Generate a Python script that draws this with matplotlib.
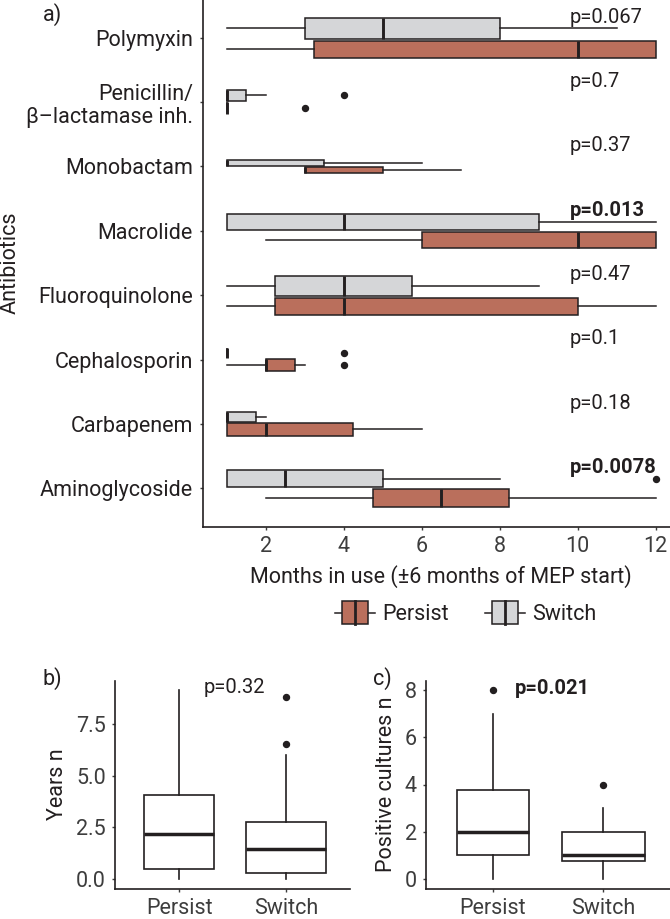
import matplotlib
matplotlib.use('Agg')
import numpy as np
import matplotlib.pyplot as plt
from matplotlib.legend_handler import HandlerBase
from matplotlib.patches import Rectangle, Patch
from matplotlib.lines import Line2D

plt.rcParams['font.family'] = ['Roboto', 'DejaVu Sans']

# ---- panel a: months in use, one row per antibiotic (bottom to top) ----
antibiotics = ['Aminoglycoside', 'Carbapenem', 'Cephalosporin', 'Fluoroquinolone',
               'Macrolide', 'Monobactam', 'Penicillin/\nβ–lactamase inh.', 'Polymyxin']

# (whisker low, q1, median, q3, whisker high)
persist_stats = [
    (2, 4.75, 6.5, 8.25, 12),
    (1, 1, 2, 4.25, 6),
    (1, 2, 2, 2.75, 3),
    (1, 2.25, 4, 10, 12),
    (2, 6, 10, 12, 12),
    (3, 3, 3, 5, 7),
    (1, 1, 1, 1, 1),
    (1, 3.25, 10, 12, 12),
]
persist_outliers = [[], [], [4], [], [], [], [3], []]
switch_stats = [
    (1, 1, 2.5, 5, 8),
    (1, 1, 1, 1.75, 2),
    (1, 1, 1, 1, 1),
    (1, 2.25, 4, 5.75, 9),
    (1, 1, 4, 9, 12),
    (1, 1, 1, 3.5, 6),
    (1, 1, 1, 1.5, 2),
    (1, 3, 5, 8, 11),
]
switch_outliers = [[12], [], [4], [], [], [], [4], []]
# group sizes (box thickness ~ sqrt(n))
persist_n = [21, 11, 9, 20, 17, 3, 10, 20]
switch_n = [21, 7, 7, 28, 19, 3, 9, 30]
p_values = ['p=0.0078', 'p=0.18', 'p=0.1', 'p=0.47', 'p=0.013', 'p=0.37', 'p=0.7', 'p=0.067']
p_bold = [True, False, False, False, True, False, False, False]
month_ticks = [2, 4, 6, 8, 10, 12]

# ---- panels b and c ----
groups = ['Persist', 'Switch']
group_n = [30, 40]
years_stats = [(0, 0.47, 2.16, 4.07, 9.15), (0, 0.28, 1.45, 2.75, 6.0)]
years_outliers = [[], [6.55, 8.8]]
years_ticks = [0.0, 2.5, 5.0, 7.5]
cultures_stats = [(0, 1, 2, 3.75, 7), (0, 0.75, 1, 2, 3)]
cultures_outliers = [[8], [4]]
cultures_ticks = [0, 2, 4, 6, 8]

INK = '#231F20'
TICK = '#3d3d3d'
PERSIST_C = '#BA6F5C'
SWITCH_C = '#D5D6D8'
FS = 15.5
PFS = 14.5


def to_bxp(stats, outliers):
    return [dict(whislo=s[0], q1=s[1], med=s[2], q3=s[3], whishi=s[4], fliers=f)
            for s, f in zip(stats, outliers)]


def style_axes(ax):
    for side in ['top', 'right']:
        ax.spines[side].set_visible(False)
    for side in ['left', 'bottom']:
        ax.spines[side].set_linewidth(1.2)
        ax.spines[side].set_color(INK)
    ax.tick_params(length=2.5, width=1.0, color=TICK, labelcolor=TICK,
                   labelsize=FS, pad=4)


W, H = 670, 919
fig = plt.figure(figsize=(W / 100, H / 100), dpi=100)


def px_axes(left, top, right, bottom):
    return fig.add_axes([left / W, 1 - bottom / H, (right - left) / W, (bottom - top) / H])


# ---------------- panel a ----------------
ax = px_axes(203.3, -0.9, 679.0, 526.9)
k = 0.059      # thickness per sqrt(n)
slot = 0.9     # dodge padding
cats = np.arange(1, len(antibiotics) + 1)
hs = k * np.sqrt(switch_n)
hp = k * np.sqrt(persist_n)
pos_s = cats + hp / slot / 2
pos_p = cats - hs / slot / 2

common = dict(orientation='horizontal', patch_artist=True, showcaps=False,
              whiskerprops=dict(color=INK, lw=1.1),
              medianprops=dict(color=INK, lw=2.1, solid_capstyle='butt'),
              flierprops=dict(marker='o', markerfacecolor=INK, markeredgecolor=INK,
                              markersize=4.3), manage_ticks=False)
ax.bxp(to_bxp(switch_stats, switch_outliers), positions=pos_s, widths=hs,
       boxprops=dict(facecolor=SWITCH_C, edgecolor=INK, lw=1.1), **common)
ax.bxp(to_bxp(persist_stats, persist_outliers), positions=pos_p, widths=hp,
       boxprops=dict(facecolor=PERSIST_C, edgecolor=INK, lw=1.1), **common)

for c, txt, b in zip(cats, p_values, p_bold):
    ax.text(9.8, c + 0.32, txt, fontsize=PFS, color=INK, ha='left', va='center',
            fontweight='bold' if b else 'normal')

ax.set_xlim(0.4, 12.6)
ax.set_ylim(0.4, len(antibiotics) + 0.6)
ax.set_yticks(cats)
ax.set_yticklabels(antibiotics, linespacing=1.15)
ax.set_xticks(month_ticks)
style_axes(ax)
ax.tick_params(axis='y', labelcolor=INK, pad=5)
ax.set_xlabel('Months in use (±6 months of MEP start)', fontsize=FS, color=INK, labelpad=6)
ax.set_ylabel('Antibiotics', fontsize=FS, color=INK)
ax.yaxis.set_label_coords(-0.385, 0.5)
fig.text(52 / W, 1 - 15 / H, 'a)', fontsize=FS, color=INK, ha='center', va='center')


# legend with box-shaped keys
class BoxKey(HandlerBase):
    def create_artists(self, legend, orig_handle, xdescent, ydescent,
                       width, height, fontsize, trans):
        fc = orig_handle.get_facecolor()
        bw = 0.64 * width
        x0 = -xdescent + (width - bw) / 2
        y0 = -ydescent
        wl = Line2D([-xdescent, -xdescent + width], [y0 + height / 2] * 2,
                    color=INK, lw=1.1, transform=trans)
        box = Rectangle((x0, y0), bw, height, facecolor=fc, edgecolor=INK,
                        lw=1.1, transform=trans)
        med = Line2D([x0 + bw / 2] * 2, [y0, y0 + height], color=INK, lw=2.0,
                     transform=trans)
        return [wl, box, med]


handles = [Patch(facecolor=PERSIST_C, label='Persist'),
           Patch(facecolor=SWITCH_C, label='Switch')]
fig.legend(handles=handles, handler_map={Patch: BoxKey()}, loc='center',
           bbox_to_anchor=(466 / W, 1 - 613 / H), ncol=2, frameon=False,
           handlelength=1.86, handleheight=1.29, handletextpad=0.34,
           columnspacing=1.67, fontsize=FS, labelcolor=INK)

# ---------------- panels b and c ----------------
wmax = 0.75
gw = wmax * np.sqrt(np.array(group_n) / max(group_n))
bottom_common = dict(patch_artist=True, showcaps=False, manage_ticks=False,
                     boxprops=dict(facecolor='white', edgecolor=INK, lw=1.2),
                     whiskerprops=dict(color=INK, lw=1.2),
                     medianprops=dict(color=INK, lw=2.5, solid_capstyle='butt'),
                     flierprops=dict(marker='o', markerfacecolor=INK,
                                     markeredgecolor=INK, markersize=4.3))
gx = np.arange(1, len(groups) + 1)

axb = px_axes(115, 680.5, 350.4, 888.5)
axb.bxp(to_bxp(years_stats, years_outliers), positions=gx, widths=gw, **bottom_common)
axb.set_xlim(0.4, 2.6)
axb.set_ylim(-0.46, 9.61)
axb.set_xticks(gx)
axb.set_xticklabels(groups)
axb.set_yticks(years_ticks)
axb.set_yticklabels(['%.1f' % v for v in years_ticks])
style_axes(axb)
axb.set_ylabel('Years n', fontsize=FS, color=INK, labelpad=6)
axb.text(1.52, 9.25, 'p=0.32', fontsize=PFS, color=INK, ha='center', va='center')
fig.text(52 / W, 1 - 679 / H, 'b)', fontsize=FS, color=INK, ha='center', va='center')

axc = px_axes(426, 680.5, 670, 888.5)
axc.bxp(to_bxp(cultures_stats, cultures_outliers), positions=gx, widths=gw, **bottom_common)
axc.set_xlim(0.4, 2.6)
axc.set_ylim(-0.4, 8.4)
axc.set_xticks(gx)
axc.set_xticklabels(groups)
axc.set_yticks(cultures_ticks)
style_axes(axc)
axc.set_ylabel('Positive cultures n', fontsize=FS, color=INK, labelpad=6)
axc.text(1.54, 8.06, 'p=0.021', fontsize=PFS, color=INK, ha='center', va='center',
         fontweight='bold')
fig.text(382 / W, 1 - 679 / H, 'c)', fontsize=FS, color=INK, ha='center', va='center')

fig.savefig('out.png', dpi=100)
